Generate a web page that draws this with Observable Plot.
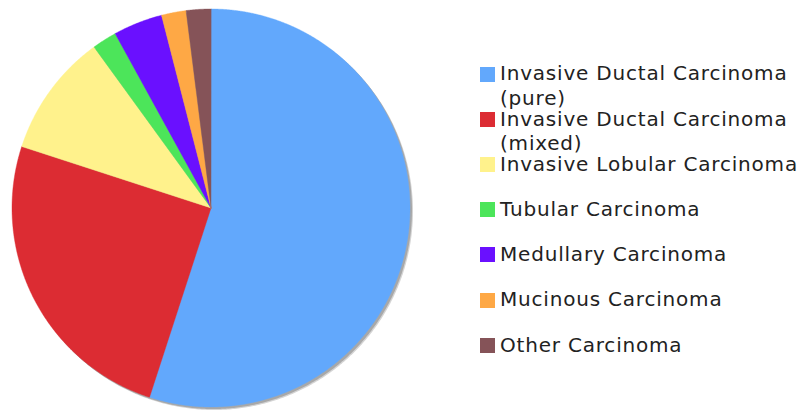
<!DOCTYPE html>
<html>
<head>
<meta charset="utf-8">
<script src="https://cdn.jsdelivr.net/npm/d3@7"></script>
<script src="https://cdn.jsdelivr.net/npm/@observablehq/plot@0.6"></script>
<style>
  body { margin: 0; background: #fff; }
  #chart { position: relative; width: 801px; height: 410px; overflow: hidden; }
  #chart svg { position: absolute; left: 0; top: 0; }
  .legend { position: absolute; left: 480px; top: 0; font-family: "DejaVu Sans", Verdana, sans-serif; font-size: 20px; line-height: 24.5px; letter-spacing: 0.8px; color: #222; }
  .item { position: absolute; left: 0; display: flex; align-items: flex-start; }
  .sw { width: 15px; height: 15px; margin-top: 5.4px; margin-right: 5px; flex: none; }
  .lbl { width: 310px; }
</style>
</head>
<body>
<div id="chart"></div>
<script>
// Histological types of breast carcinoma (share of cases, %)
const categories = [
  "Invasive Ductal Carcinoma (pure)",
  "Invasive Ductal Carcinoma (mixed)",
  "Invasive Lobular Carcinoma",
  "Tubular Carcinoma",
  "Medullary Carcinoma",
  "Mucinous Carcinoma",
  "Other Carcinoma"
];
const shares = [55, 25, 10, 2, 4, 2, 2];
const colors = ["#62a8fc", "#dc2c33", "#fff28c", "#4ce55a", "#6a10ff", "#fea845", "#855358"];

const data = categories.map((c, i) => ({category: c, value: shares[i]}));

// Slice outlines on a unit circle, clockwise from twelve o'clock
const arcs = d3.pie().sort(null).value(d => d.value)(data);
const step = Math.PI / 720;
const slicePoints = arcs.flatMap(a => {
  const pts = [{category: a.data.category, x: 0, y: 0}];
  const n = Math.max(2, Math.ceil((a.endAngle - a.startAngle) / step));
  for (let k = 0; k <= n; ++k) {
    const t = a.startAngle + (a.endAngle - a.startAngle) * k / n;
    pts.push({category: a.data.category, x: Math.sin(t), y: Math.cos(t)});
  }
  return pts;
});
const rim = d3.range(0, 721).map(k => {
  const t = k * step * 2;
  return {x: Math.sin(t), y: Math.cos(t)};
});

const plot = Plot.plot({
  width: 801,
  height: 410,
  marginLeft: 11.5,
  marginRight: 391.5,
  marginTop: 8.5,
  marginBottom: 3.5,
  x: {domain: [-1, 1], axis: null},
  y: {domain: [-1, 1], axis: null},
  color: {domain: categories, range: colors},
  marks: [
    // soft drop shadow behind the pie
    Plot.line(rim, {x: "x", y: "y", curve: "linear-closed", fill: "#d4d4d4", stroke: "none", dx: 3, dy: 3}),
    Plot.line(rim, {x: "x", y: "y", curve: "linear-closed", fill: "#a8a8a8", stroke: "none", dx: 2, dy: 2}),
    Plot.line(slicePoints, {
      x: "x", y: "y", z: "category",
      fill: "category", stroke: "category", strokeWidth: 0.4,
      curve: "linear-closed"
    })
  ]
});

const chart = document.getElementById("chart");
chart.appendChild(plot);

// Legend beside the pie: one row per category
const legend = document.createElement("div");
legend.className = "legend";
categories.forEach((c, i) => {
  const item = document.createElement("div");
  item.className = "item";
  item.style.top = (61.3 + i * 45.2) + "px";
  const sw = document.createElement("div");
  sw.className = "sw";
  sw.style.background = colors[i];
  const lbl = document.createElement("div");
  lbl.className = "lbl";
  lbl.textContent = c;
  item.appendChild(sw);
  item.appendChild(lbl);
  legend.appendChild(item);
});
chart.appendChild(legend);
</script>
</body>
</html>
